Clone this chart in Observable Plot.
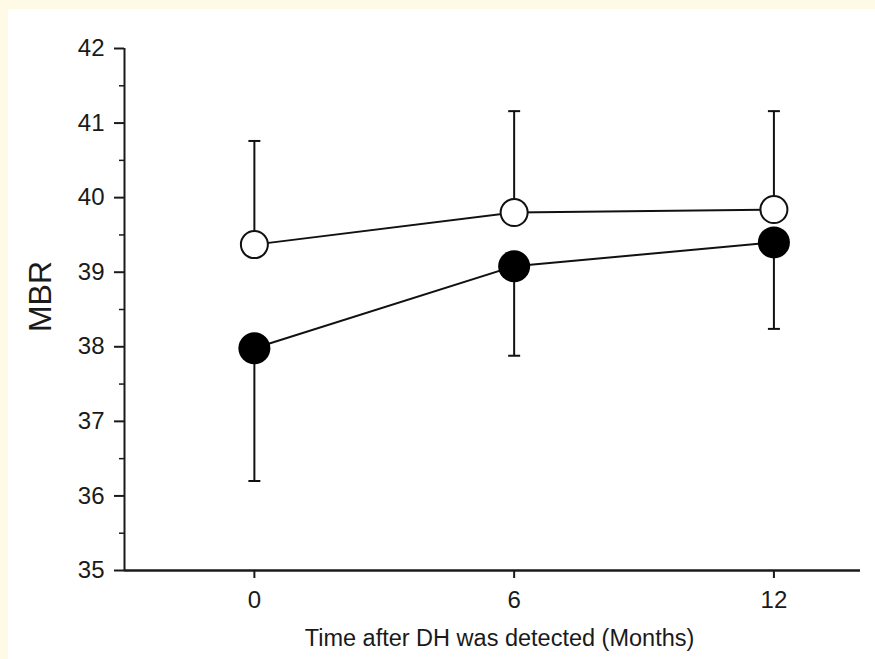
<!DOCTYPE html>
<html>
<head>
<meta charset="utf-8">
<script src="https://cdn.jsdelivr.net/npm/d3@7"></script>
<script src="https://cdn.jsdelivr.net/npm/@observablehq/plot@0.6"></script>
<style>
  html, body { margin: 0; padding: 0; background: #fefae6; width: 875px; height: 659px; overflow: hidden; }
  #panel { position: absolute; left: 8px; top: 9px; right: 0; bottom: 0; background: #ffffff; }
  #chart { position: absolute; left: 0; top: 0; }
  #chart svg { background: transparent; }
</style>
</head>
<body>
<div id="panel"></div>
<div id="chart"></div>
<script>
const months = [0, 6, 12];
const openMean = [39.37, 39.80, 39.84];
const openUpper = [40.76, 41.16, 41.16];
const filledMean = [37.98, 39.08, 39.40];
const filledLower = [36.20, 37.88, 38.24];
const yTicks = [35, 36, 37, 38, 39, 40, 41, 42];
const yMinorTicks = [35.5, 36.5, 37.5, 38.5, 39.5, 40.5, 41.5];
const xTicks = [0, 6, 12];

const openData = months.map((m, i) => ({month: m, mean: openMean[i], bound: openUpper[i]}));
const filledData = months.map((m, i) => ({month: m, mean: filledMean[i], bound: filledLower[i]}));

// horizontal cap symbol for error bars
const capSymbol = {
  draw(context, size) {
    const w = 6;
    context.moveTo(-w, 0);
    context.lineTo(w, 0);
  }
};

const font = "'Liberation Sans', Arial, sans-serif";

const chart = Plot.plot({
  width: 875,
  height: 659,
  marginLeft: 124,
  marginTop: 48,
  marginRight: 15,
  marginBottom: 89,
  style: {fontFamily: font, fontSize: "22px", background: "transparent", color: "#1a1a1a"},
  x: {domain: [-3, 14]},
  y: {domain: [35, 42]},
  marks: [
    Plot.axisY({ticks: yMinorTicks, tickSize: 5, text: null, label: null, strokeWidth: 1.5}),
    Plot.axisY({ticks: yTicks, tickSize: 10, tickPadding: 10, tickFormat: "d", strokeWidth: 2,
      label: "MBR", labelAnchor: "center", labelArrow: "none", labelOffset: 96}),
    Plot.axisX({ticks: xTicks, tickSize: 8, tickPadding: 12, tickFormat: "d", strokeWidth: 2,
      label: "Time after DH was detected (Months)", labelAnchor: "center", labelArrow: "none", labelOffset: 75}),
    Plot.ruleX([-3], {y1: 35, y2: 42, stroke: "#1a1a1a", strokeWidth: 2}),
    Plot.ruleY([35], {stroke: "#1a1a1a", strokeWidth: 2.5}),
    // error bars
    Plot.ruleX(openData, {x: "month", y1: "mean", y2: "bound", stroke: "#111", strokeWidth: 2}),
    Plot.ruleX(filledData, {x: "month", y1: "mean", y2: "bound", stroke: "#111", strokeWidth: 2}),
    Plot.dot(openData, {x: "month", y: "bound", symbol: capSymbol, stroke: "#111", strokeWidth: 2, r: 6}),
    Plot.dot(filledData, {x: "month", y: "bound", symbol: capSymbol, stroke: "#111", strokeWidth: 2, r: 6}),
    // lines
    Plot.line(openData, {x: "month", y: "mean", stroke: "#111", strokeWidth: 2}),
    Plot.line(filledData, {x: "month", y: "mean", stroke: "#111", strokeWidth: 2}),
    // points
    Plot.dot(openData, {x: "month", y: "mean", r: 13.5, fill: "#ffffff", stroke: "#111", strokeWidth: 2}),
    Plot.dot(filledData, {x: "month", y: "mean", r: 16, fill: "#000000", stroke: "none"})
  ]
});

// font sizes: tick labels, axis titles
d3.select(chart).selectAll("text").style("font-size", "24px");
d3.select(chart).selectAll("text")
  .filter(function() { return this.textContent.startsWith("Time after"); })
  .style("font-size", "23.5px")
  .attr("dx", 7);
d3.select(chart).selectAll("text")
  .filter(function() { return this.textContent === "MBR"; })
  .style("font-size", "32px")
  .attr("dx", 13);

document.getElementById("chart").appendChild(chart);
</script>
</body>
</html>
